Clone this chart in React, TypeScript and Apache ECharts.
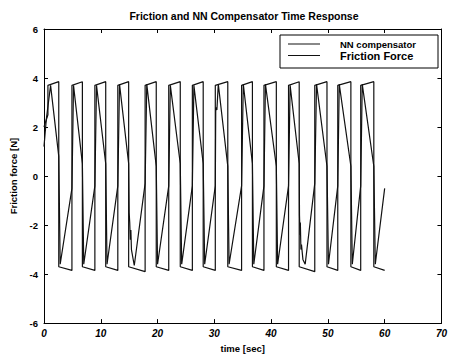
import React, { useEffect, useRef } from "react";
import * as echarts from "echarts";

const titleText = "Friction and NN Compensator Time Response";
const xName = "time [sec]";
const yName = "Friction force [N]";
const seriesNames = ["NN compensator", "Friction Force"];

// Friction force: [time s, force N]
const frictionData: [number, number][] = [
  [0, 2.0], [0.69, 2.5], [0.69, 3.7], [2.6, 3.85], [2.6, -3.7],
  [4.92, -3.85], [4.92, 3.7], [6.76, 3.85], [6.76, -3.7],
  [8.96, -3.85], [8.96, 3.7], [10.87, 3.85], [10.87, -3.7],
  [13.0, -3.85], [13.0, 3.7], [14.91, 3.85], [14.91, -3.7],
  [17.81, -3.9], [17.81, 3.7], [19.77, 3.85], [19.77, -3.7],
  [21.97, -3.85], [21.97, 3.7], [24.0, 3.85], [24.0, -3.7],
  [26.13, -3.85], [26.13, 3.7], [28.04, 3.85], [28.04, -3.7],
  [30.17, -3.85], [30.17, 3.7], [32.37, 3.85], [32.37, -3.7],
  [34.8, -3.85], [34.8, 3.7], [36.71, 3.85], [36.71, -3.7],
  [38.74, -3.85], [38.74, 3.7], [40.92, 3.85], [40.92, -3.7],
  [43.07, -3.85], [43.07, 3.7], [44.95, 3.85], [44.95, -3.7],
  [47.69, -3.9], [47.69, 3.7], [49.84, 3.85], [49.84, -3.7],
  [51.74, -3.85], [51.74, 3.7], [54.05, 3.85], [54.05, -3.7],
  [55.78, -3.85], [55.78, 3.7], [58.09, 3.85], [58.09, -3.7],
  [60.0, -3.85],
];

// NN compensator output: [time s, force N]
const nnData: [number, number][] = [
  [0, 1.2], [0.4, 2.3], [1.16, 3.7], [2.6, 0.8], [2.85, -3.6],
  [4.92, -0.5], [5.2, 3.7], [6.76, 0.5], [7.0, -3.6],
  [8.96, -0.4], [9.25, 3.7], [10.87, 0.5], [11.1, -3.6],
  [13.0, -0.4], [13.3, 3.75], [14.91, 0.5], [15.0, -1.5], [15.1, -1.9],
  [15.2, -2.6], [15.3, -2.2], [15.4, -3.0], [15.9, -3.65],
  [17.81, -0.3], [18.1, 3.75], [19.77, 0.4], [20.0, -3.6],
  [21.97, -0.4], [22.25, 3.7], [24.0, 0.5], [24.25, -3.6],
  [26.13, -0.4], [26.4, 3.7], [28.04, 0.5], [28.3, -3.6],
  [30.17, -0.4], [30.25, 2.8], [30.45, 2.7], [30.7, 3.75], [32.37, 0.4], [32.6, -3.6],
  [34.8, -0.4], [35.1, 3.75], [36.71, 0.5], [36.95, -3.6],
  [38.74, -0.4], [39.0, 3.75], [40.92, 0.4], [41.15, -3.6],
  [43.07, -0.4], [43.35, 3.7], [44.95, 0.5], [45.0, -1.6], [45.1, -2.4],
  [45.15, -1.9], [45.25, -3.0], [45.35, -2.8], [45.6, -3.4], [46.0, -3.6],
  [47.69, -0.3], [48.0, 3.75], [49.84, 0.4], [50.1, -3.6],
  [51.74, -0.4], [52.0, 3.75], [54.05, 0.4], [54.3, -3.6],
  [55.78, -0.4], [56.05, 3.75], [58.09, 0.4], [58.35, -3.6],
  [60.0, -0.5],
];

const xMin = 0, xMax = 70, xStep = 10;
const yMin = -6, yMax = 6, yStep = 2;

const FONT = "Liberation Sans, Arial, sans-serif";

export default function App() {
  const ref = useRef<HTMLDivElement>(null);
  useEffect(() => {
    if (!ref.current) return;
    const chart = echarts.init(ref.current, null, { renderer: "svg" });
    const axisLine = { show: true, onZero: false, lineStyle: { color: "#000", width: 1 } };
    const tick = { show: true, inside: true, length: 4, lineStyle: { color: "#000" } };
    chart.setOption({
      animation: false,
      backgroundColor: "#fff",
      textStyle: { fontFamily: FONT, color: "#000" },
      title: {
        text: titleText,
        left: 244,
        top: 10,
        textAlign: "center",
        padding: 0,
        textStyle: { fontFamily: FONT, fontSize: 10.5, fontWeight: "bold", color: "#000" },
      },
      grid: { left: 43, right: 3, top: 29, bottom: 34, containLabel: false },
      legend: {
        data: seriesNames,
        orient: "vertical",
        left: 288,
        top: 39,
        padding: 0,
        itemGap: 1,
        itemWidth: 32,
        itemHeight: 1,
        icon: "rect",
        itemStyle: { color: "#111" },
        selectedMode: false,
        formatter: (n: string) => (n === seriesNames[0] ? `{a|${n}}` : `{b|${n}}`),
        textStyle: {
          color: "#000",
          fontFamily: FONT,
          rich: {
            a: { fontSize: 9.5, fontWeight: "bold", fontFamily: FONT, color: "#000", padding: [0, 0, 0, 15] },
            b: { fontSize: 11, fontWeight: "bold", fontFamily: FONT, color: "#000", padding: [0, 0, 0, 15] },
          },
        },
      },
      graphic: [
        {
          type: "rect",
          z: 1,
          shape: { x: 280, y: 35, width: 158, height: 33 },
          style: { fill: "none", stroke: "#000", lineWidth: 1 },
        },
      ],
      xAxis: [
        {
          type: "value",
          min: xMin,
          max: xMax,
          interval: xStep,
          position: "bottom",
          name: xName,
          nameLocation: "middle",
          nameGap: 5,
          nameTextStyle: { fontFamily: FONT, fontSize: 9.5, fontWeight: "bold", color: "#000" },
          axisLine,
          axisTick: tick,
          splitLine: { show: false },
          axisLabel: { fontFamily: FONT, fontSize: 10, fontWeight: "bold", fontStyle: "italic", color: "#000", margin: 5 },
        },
        {
          type: "value",
          min: xMin,
          max: xMax,
          interval: xStep,
          position: "top",
          axisLine,
          axisTick: tick,
          splitLine: { show: false },
          axisLabel: { show: false },
        },
      ],
      yAxis: [
        {
          type: "value",
          min: yMin,
          max: yMax,
          interval: yStep,
          position: "left",
          name: yName,
          nameLocation: "middle",
          nameGap: 26,
          nameTextStyle: { fontFamily: FONT, fontSize: 9.5, fontWeight: "bold", color: "#000" },
          axisLine,
          axisTick: tick,
          splitLine: { show: false },
          axisLabel: { fontFamily: FONT, fontSize: 9.5, fontWeight: "bold", color: "#000", margin: 6 },
        },
        {
          type: "value",
          min: yMin,
          max: yMax,
          interval: yStep,
          position: "right",
          axisLine,
          axisTick: tick,
          splitLine: { show: false },
          axisLabel: { show: false },
        },
      ],
      series: [
        {
          name: seriesNames[0],
          type: "line",
          data: nnData,
          showSymbol: false,
          symbol: "none",
          lineStyle: { color: "#111", width: 1.2 },
          itemStyle: { color: "#111" },
        },
        {
          name: seriesNames[1],
          type: "line",
          data: frictionData,
          showSymbol: false,
          symbol: "none",
          lineStyle: { color: "#111", width: 1.2 },
          itemStyle: { color: "#111" },
        },
      ],
    });
    return () => chart.dispose();
  }, []);
  return (
    <div
      ref={ref}
      style={{ position: "fixed", left: 0, top: 0, width: 450, height: 358, background: "#fff" }}
    />
  );
}
